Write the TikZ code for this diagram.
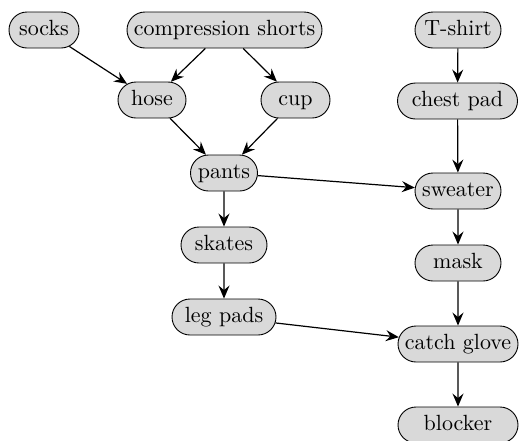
\documentclass[tikz,border=0pt]{standalone}
\usepackage{fontspec}
\newfontfamily\boxfont{lmroman10-regular.otf}
\usetikzlibrary{arrows.meta,shapes.misc}
\definecolor{boxfill}{HTML}{D9D9D9}
\tikzset{
  item/.style={rounded rectangle, draw=black, line width=0.9pt, fill=boxfill,
    minimum height=36pt, inner xsep=2pt, inner ysep=0pt,
    text height=15.5pt, text depth=5.5pt,
    font=\boxfont\fontsize{22}{26}\selectfont},
  link/.style={line width=1.2pt, -{Stealth[length=13pt,width=11pt,inset=4.5pt]}}
}
\begin{document}
\begin{tikzpicture}[x=1pt,y=-1pt]
\useasboundingbox (0,0) rectangle (520,440);
\node[item, minimum width=74pt] (socks) at (44,30) {socks};
\node[item, minimum width=199pt] (cs) at (224.5,30) {compression shorts};
\node[item, minimum width=90pt] (tshirt) at (458,30) {T-shirt};
\node[item, minimum width=72pt] (hose) at (152,100) {hose};
\node[item, minimum width=73pt] (cup) at (295.5,100) {cup};
\node[item, minimum width=124pt] (chest) at (457.5,101) {chest pad};
\node[item, minimum width=71pt] (pants) at (224,173) {pants};
\node[item, minimum width=90pt] (sweater) at (458,191) {sweater};
\node[item, minimum width=90pt] (skates) at (224,245) {skates};
\node[item, minimum width=90pt] (mask) at (458,263) {mask};
\node[item, minimum width=108pt] (legpads) at (224,317) {leg pads};
\node[item, minimum width=124pt] (glove) at (458,344) {catch glove};
\node[item, minimum width=124pt] (blocker) at (458,425) {blocker};
\draw[link] (socks) -- (hose);
\draw[link] (cs) -- (hose);
\draw[link] (cs) -- (cup);
\draw[link] (hose) -- (pants);
\draw[link] (cup) -- (pants);
\draw[link] (pants) -- (sweater);
\draw[link] (pants) -- (skates);
\draw[link] (skates) -- (legpads);
\draw[link] (legpads) -- (glove);
\draw[link] (tshirt) -- (chest);
\draw[link] (chest) -- (sweater);
\draw[link] (sweater) -- (mask);
\draw[link] (mask) -- (glove);
\draw[link] (glove) -- (blocker);
\end{tikzpicture}
\end{document}
